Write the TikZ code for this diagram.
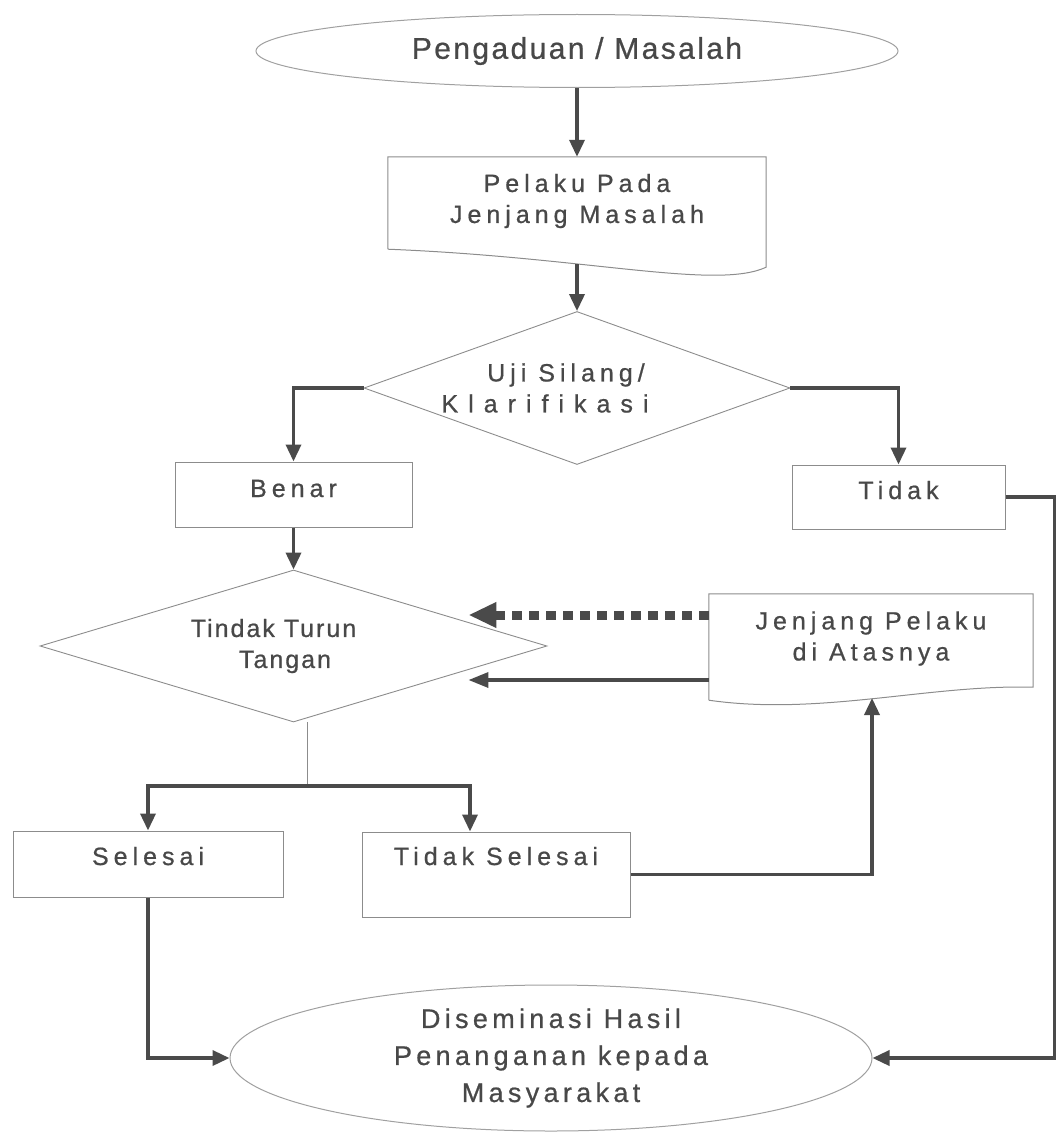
\documentclass[tikz,border=0pt]{standalone}
\usepackage{fontspec}
\setmainfont{Liberation Sans}
\newfontfamily\spaced[LetterSpace=20,FakeBold=0.7]{Liberation Sans}
\newfontfamily\tight[LetterSpace=8,FakeBold=0.7]{Liberation Sans}
\newfontfamily\wider[LetterSpace=40,FakeBold=0.7]{Liberation Sans}
\newfontfamily\headfont[LetterSpace=8,FakeBold=0.7]{Liberation Sans}
\newfontfamily\midfont[LetterSpace=16,FakeBold=0.7]{Liberation Sans}
\usetikzlibrary{shapes.geometric,arrows.meta}
\definecolor{inkgray}{HTML}{484848}
\definecolor{linegray}{HTML}{4A4A4A}
\definecolor{edgegray}{HTML}{8C8C8C}
\definecolor{ovalgray}{HTML}{A0A0A0}

\begin{document}
\begin{tikzpicture}[x=1pt,y=-1pt,
	lbl/.style={text=inkgray,font=\spaced\fontsize{25}{31}\selectfont,align=center},
	box/.style={lbl,draw=edgegray,line width=1pt,rectangle,inner sep=0,text height=18pt,text depth=14pt},
	doc/.style={lbl,inner sep=0},
	docline/.style={draw=edgegray,line width=1pt},
	decide/.style={lbl,draw=edgegray,line width=0.9pt,diamond,inner sep=0},
	oval/.style={lbl,draw=ovalgray,line width=1pt,ellipse,inner sep=0},
	conn/.style={draw=linegray,line width=3.5pt,-{Triangle[length=17pt,width=15pt]}},
	dashconn/.style={draw=linegray,line width=9pt,dash pattern=on 10pt off 7pt,-{Triangle[length=28pt,width=24pt]}},
	stem/.style={draw=edgegray,line width=1.6pt}]
	\useasboundingbox (0,0) rectangle (1056,1132);
	\node[oval,minimum width=642pt,minimum height=73pt,font=\headfont\fontsize{30}{36}\selectfont] (aduan) at (577,51) {Pengaduan / Masalah};
	\node[doc,minimum width=378pt,minimum height=88pt] (pelaku) at (577,201) {Pelaku Pada\\Jenjang Masalah};
	\node[decide,minimum width=426pt,minimum height=153pt,shape aspect=2.8] (uji) at (577,388) {\hspace*{-22pt}Uji Silang/\\\hspace*{-64pt}{\wider Klarifikasi}};
	\node[box,minimum width=237pt,minimum height=65pt,text depth=13pt] (benar) at (293.5,494.5) {Benar};
	\node[box,minimum width=213pt,minimum height=64pt] (tidak) at (898.5,497) {Tidak};
	\node[decide,minimum width=507pt,minimum height=152pt,shape aspect=3.3,font=\tight\fontsize{25}{31}\selectfont] (tindak) at (293.5,646) {\hspace*{-40pt}Tindak Turun\\\hspace*{-17pt}Tangan};
	\node[doc,minimum width=324pt,minimum height=89pt] (atasan) at (871,638.5) {Jenjang Pelaku\\di Atasnya};
	\node[box,minimum width=270pt,minimum height=66pt,text depth=16pt] (selesai) at (148,864) {Selesai};
	\node[box,minimum width=268pt,minimum height=85pt,text depth=37pt] (tselesai) at (496,874.5) {Tidak Selesai};
	\node[oval,minimum width=642pt,minimum height=146pt,font=\midfont\fontsize{27}{37}\selectfont] (sebar) at (551,1058) {Diseminasi Hasil\\Penanganan kepada\\Masyarakat};
	\draw[docline] ([yshift=-4pt]pelaku.south west) -- (pelaku.north west) -- (pelaku.north east) -- ([yshift=-22pt]pelaku.south east) .. controls ([xshift=-50pt,yshift=-45pt]pelaku.south east) and ([xshift=200pt,yshift=-12pt]pelaku.south west) .. ([yshift=-4pt]pelaku.south west);
	\draw[docline] ([yshift=-17pt]atasan.south west) -- (atasan.north west) -- (atasan.north east) -- ([yshift=-4pt]atasan.south east) .. controls ([xshift=-103pt,yshift=-1pt]atasan.south east) and ([xshift=111pt,yshift=-33pt]atasan.south west) .. ([yshift=-17pt]atasan.south west);
	\coordinate (pelakuBot) at (577,264);
	\coordinate (atasBot) at (872,698);
	\coordinate (cabang) at (307.5,786);
	\draw[conn] (aduan) -- (pelaku);
	\draw[conn] (pelakuBot) -- (uji.north);
	\draw[conn] (uji.west) -| (benar.north);
	\draw[conn] (uji.east) -| (tidak.north);
	\draw[conn] (benar) -- (tindak);
	\draw[dashconn] ([yshift=23.5pt]atasan.west) -- ([xshift=-79pt,yshift=31pt]tindak.east);
	\draw[conn,-{Triangle[length=20pt,width=15pt]}] ([yshift=-41.5pt]atasan.west) -- ([xshift=-79pt,yshift=-34pt]tindak.east);
	\draw[stem] ([xshift=14pt]tindak.south) -- (cabang);
	\draw[conn] (cabang) -| (selesai.north);
	\draw[conn] (cabang) -| ([xshift=-26pt]tselesai.north);
	\draw[conn] (tselesai.east) -| (atasBot);
	\draw[conn] (selesai.south) |- (sebar.west);
	\draw[conn] (tidak.east) -- ++(49,0) |- (sebar.east);
\end{tikzpicture}
\end{document}
